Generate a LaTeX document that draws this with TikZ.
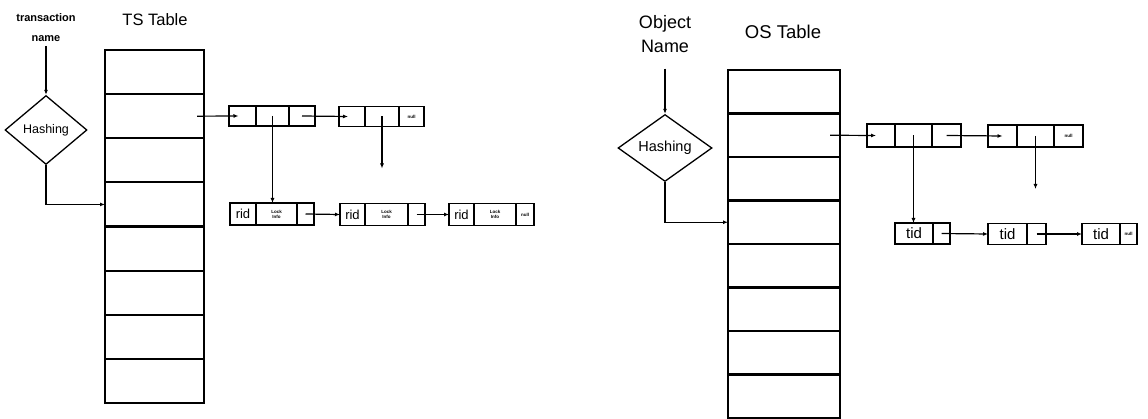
\documentclass[tikz,border=0pt]{standalone}
\usepackage{fontspec}
\setmainfont{Liberation Sans}
\usetikzlibrary{arrows.meta,positioning,shapes.geometric,calc}

\tikzset{
  tblrow/.style={draw,line width=2.2pt,inner sep=0pt,outer sep=0pt},
  cell/.style={draw,line width=1.3pt,minimum width=#1,minimum height=20pt,
    inner sep=0pt,outer sep=0pt,font=\fontsize{13}{14}\selectfont},
  hashbox/.style={draw,diamond,line width=1.3pt,inner sep=0pt},
  tiny/.style={font=\fontsize{4.5}{5}\selectfont\bfseries,align=center},
  heading/.style={font=\fontsize{18}{20}\selectfont}
}

\begin{document}
\begin{tikzpicture}[x=1pt,y=-1pt,>={Latex[length=5pt,width=4pt]},line width=1.2pt]
  \useasboundingbox (0,0) rectangle (1148,419);

  % transaction side
  \node[heading,font=\fontsize{16.5}{20}\selectfont] (tstitle) at (155,20) {TS Table};
  \node[font=\fontsize{11}{20}\selectfont\bfseries,align=center] (tname) at (46,28) {transaction\\name};
  \node[hashbox,minimum width=82pt,minimum height=69pt,font=\fontsize{12.5}{14}\selectfont] (hash1) at (46,130) {Hashing};
  \foreach \i in {1,...,8}
    \node[tblrow,minimum width=99pt,minimum height=44.125pt] (ts\i) at (154.5,{50+44.125*(\i-0.5)}) {};

  \node[cell=27pt] (a1) at (242.5,116) {};
  \node[cell=33pt,right=0pt of a1] (a2) {};
  \node[cell=26pt,right=0pt of a2] (a3) {};
  \node[cell=26pt] (b1) at (352,116.5) {};
  \node[cell=34pt,right=0pt of b1] (b2) {};
  \node[cell=25pt,right=0pt of b2,tiny] (b3) {null};
  \coordinate (b2end) at ($(b2.center)+(0,52)$);

  \node[cell=26pt,minimum height=22pt] (c1) at (243,214) {rid};
  \node[cell=41pt,minimum height=22pt,right=0pt of c1,tiny] (c2) {Lock\\Info};
  \node[cell=17pt,minimum height=22pt,right=0pt of c2] (c3) {};
  \node[cell=25pt,minimum height=22pt] (d1) at (352.5,214.5) {rid};
  \node[cell=43pt,minimum height=22pt,right=0pt of d1,tiny] (d2) {Lock\\Info};
  \node[cell=17pt,minimum height=22pt,right=0pt of d2] (d3) {};
  \node[cell=25pt,minimum height=22pt] (e1) at (461.5,214.5) {rid};
  \node[cell=42pt,minimum height=22pt,right=0pt of e1,tiny] (e2) {Lock\\Info};
  \node[cell=18pt,minimum height=22pt,right=0pt of e2,tiny] (e3) {null};

  \draw[->] (tname.south) -- (hash1.north);
  \draw[->] (hash1.south) |- (ts4.west);
  \draw[->] ([xshift=-7pt]ts2.east) -- ([xshift=-4pt]a1.center);
  \draw[->] (a3.center) -- ([xshift=-4pt]b1.center);
  \draw[->] (a2.center) -- (a2.center |- c2.north);
  \draw[->] (b2.center) -- (b2end);
  \draw[->] (c3.center) -- (d1.west);
  \draw[->] (d3.center) -- (e1.west);

  % object side
  \node[heading,font=\fontsize{18.5}{20}\selectfont] (ostitle) at (783,32) {OS Table};
  \node[font=\fontsize{18}{24}\selectfont,align=center] (oname) at (665,34) {Object\\Name};
  \node[hashbox,minimum width=94pt,minimum height=67pt,font=\fontsize{14.5}{16}\selectfont] (hash2) at (665,148) {Hashing};
  \foreach \i in {1,...,8}
    \node[tblrow,minimum width=112pt,minimum height=43.5pt] (os\i) at (784,{70+43.5*(\i-0.5)}) {};

  \node[cell=28pt,minimum height=23pt] (f1) at (881,135.5) {};
  \node[cell=37pt,minimum height=23pt,right=0pt of f1] (f2) {};
  \node[cell=29pt,minimum height=23pt,right=0pt of f2] (f3) {};
  \node[cell=29pt,minimum height=22pt] (g1) at (1002.5,136) {};
  \node[cell=37pt,minimum height=22pt,right=0pt of g1] (g2) {};
  \node[cell=29pt,minimum height=22pt,right=0pt of g2,tiny] (g3) {null};
  \coordinate (g2end) at ($(g2.center)+(0,53)$);

  \node[cell=38pt,minimum height=21pt,font=\fontsize{15}{16}\selectfont] (h1) at (914,233.5) {tid};
  \node[cell=17pt,minimum height=21pt,right=0pt of h1] (h2) {};
  \node[cell=39pt,minimum height=21pt,font=\fontsize{15}{16}\selectfont] (i1) at (1007.5,234) {tid};
  \node[cell=19pt,minimum height=21pt,right=0pt of i1] (i2) {};
  \node[cell=38pt,minimum height=21pt,font=\fontsize{15}{16}\selectfont] (j1) at (1101,234) {tid};
  \node[cell=17pt,minimum height=21pt,right=0pt of j1,tiny] (j2) {null};

  \draw[->] ($(oname.south)+(0,12)$) -- (hash2.north);
  \draw[->] (hash2.south) |- (os4.west);
  \draw[->] ([xshift=-10pt]os2.east) -- ([xshift=-5pt]f1.center);
  \draw[->] (f3.center) -- (g1.center);
  \draw[->] (f2.center) -- (f2.center |- h1.north);
  \draw[->] (g2.center) -- (g2end);
  \draw[->] (h2.center) -- (i1.west);
  \draw[->] (i2.center) -- (j1.west);
\end{tikzpicture}
\end{document}
